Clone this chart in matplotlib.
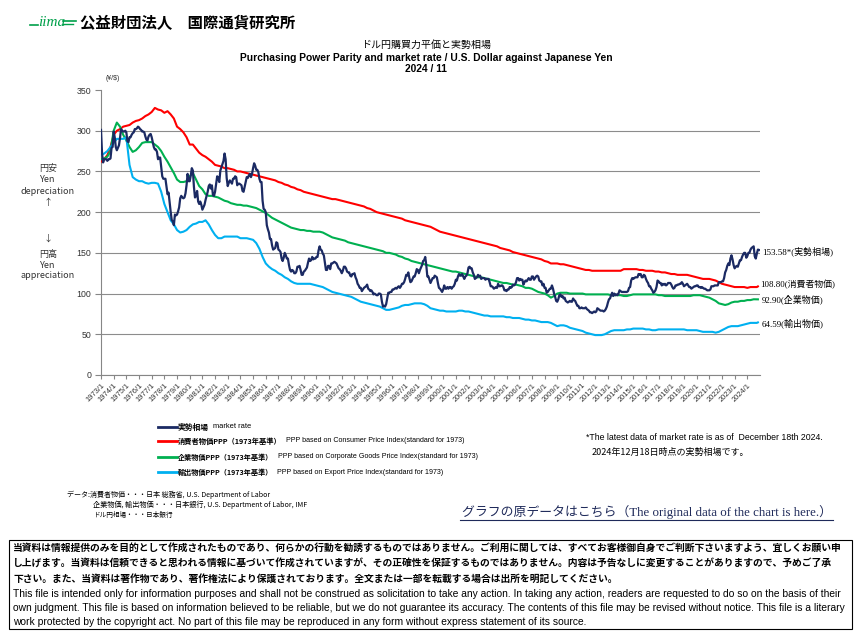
import numpy as np
import matplotlib.pyplot as plt
from matplotlib.lines import Line2D
from matplotlib.patches import Rectangle

# ---- data ----
# market rate, monthly averages 1973/1 .. 2024/12 (last = Dec 18th 2024)
market_rate = [
    301, 272, 261, 265, 265, 265, 263, 265, 265, 266, 279, 280,   # 1973
    299, 292, 280, 276, 279, 282, 291, 302, 300, 299, 299, 300,   # 1974
    298, 287, 286, 292, 292, 295, 297, 298, 302, 302, 303, 305,   # 1975
    304, 302, 301, 299, 299, 298, 293, 289, 288, 293, 295, 296,   # 1976
    292, 286, 280, 277, 277, 274, 265, 267, 267, 255, 244, 241,   # 1977
    241, 241, 231, 222, 224, 212, 200, 190, 189, 184, 197, 196,   # 1978
    197, 201, 206, 217, 220, 218, 217, 218, 223, 233, 247, 238,   # 1979
    238, 245, 254, 251, 231, 218, 220, 226, 213, 210, 213, 209,   # 1980
    203, 206, 209, 215, 220, 225, 232, 234, 229, 233, 221, 220,   # 1981
    225, 235, 244, 242, 237, 251, 255, 259, 263, 272, 265, 242,   # 1982
    232, 236, 239, 237, 235, 241, 241, 244, 243, 233, 235, 235,   # 1983
    234, 233, 226, 225, 231, 237, 243, 242, 245, 247, 243, 247,   # 1984
    254, 260, 257, 252, 252, 249, 241, 237, 237, 214, 204, 203,   # 1985
    200, 184, 179, 175, 167, 167, 159, 154, 155, 156, 163, 162,   # 1986
    154, 153, 151, 143, 140, 144, 150, 147, 143, 143, 135, 129,   # 1987
    127, 129, 128, 125, 125, 127, 133, 133, 134, 129, 123, 123,   # 1988
    127, 128, 130, 132, 138, 143, 140, 141, 145, 142, 143, 143,   # 1989
    145, 145, 153, 158, 154, 153, 149, 147, 138, 129, 129, 134,   # 1990
    134, 130, 137, 137, 138, 139, 138, 137, 134, 131, 130, 128,   # 1991
    125, 128, 133, 133, 131, 127, 126, 126, 122, 121, 124, 124,   # 1992
    125, 120, 117, 112, 110, 107, 107, 103, 105, 107, 108, 109,   # 1993
    111, 106, 105, 103, 104, 102, 99, 100, 99, 98, 98, 100,       # 1994
    100, 99, 90, 84, 85, 84, 87, 94, 101, 101, 102, 102,          # 1995
    105, 105, 106, 107, 106, 108, 109, 107, 109, 112, 112, 114,   # 1996
    118, 123, 122, 126, 119, 114, 115, 118, 121, 121, 125, 130,   # 1997
    129, 125, 129, 132, 135, 140, 141, 145, 135, 121, 121, 117,   # 1998
    113, 116, 119, 119, 122, 121, 120, 113, 107, 106, 104, 102,   # 1999
    105, 110, 106, 106, 108, 106, 108, 108, 106, 108, 109, 112,   # 2000
    117, 116, 121, 124, 122, 122, 124, 121, 118, 121, 122, 125,   # 2001
    132, 133, 131, 131, 126, 123, 118, 119, 120, 123, 121, 122,   # 2002
    118, 119, 119, 119, 117, 118, 118, 118, 114, 109, 109, 108,   # 2003
    106, 107, 108, 107, 112, 109, 109, 110, 110, 108, 104, 104,   # 2004
    103, 105, 105, 108, 107, 108, 111, 110, 111, 114, 119, 119,   # 2005
    116, 118, 117, 117, 111, 114, 116, 115, 117, 119, 117, 117,   # 2006
    121, 121, 117, 119, 121, 122, 121, 116, 115, 115, 110, 112,   # 2007
    107, 107, 101, 102, 104, 106, 106, 110, 106, 100, 96, 91,     # 2008
    90, 93, 98, 99, 96, 97, 94, 95, 91, 90, 89, 90,               # 2009
    91, 90, 90, 94, 92, 91, 88, 85, 85, 82, 82, 83,               # 2010
    82, 82, 82, 83, 81, 80, 79, 77, 77, 76, 77, 78,               # 2011
    77, 78, 82, 81, 80, 79, 79, 79, 78, 79, 81, 84,               # 2012
    89, 93, 94, 98, 101, 97, 100, 98, 99, 98, 100, 104,           # 2013
    103, 102, 102, 102, 102, 102, 102, 103, 107, 108, 116, 119,   # 2014
    118, 119, 120, 120, 120, 124, 123, 124, 120, 120, 123, 122,   # 2015
    118, 115, 113, 109, 109, 106, 104, 101, 102, 104, 108, 116,   # 2016
    115, 113, 113, 110, 112, 111, 112, 110, 111, 113, 113, 113,   # 2017
    111, 108, 106, 107, 110, 110, 111, 111, 112, 112, 114, 112,   # 2018
    109, 110, 111, 112, 110, 108, 108, 106, 107, 108, 109, 109,   # 2019
    110, 110, 108, 108, 107, 108, 107, 106, 106, 105, 104, 104,   # 2020
    104, 105, 109, 109, 109, 110, 110, 110, 110, 114, 114, 114,   # 2021
    115, 115, 119, 126, 129, 134, 137, 135, 143, 147, 142, 135,   # 2022
    131, 133, 134, 133, 137, 141, 141, 145, 148, 150, 150, 144,   # 2023
    146, 150, 150, 154, 156, 157, 158, 146, 143, 149, 154, 153.58,  # 2024
]

# PPP series, quarterly (Jan, Apr, Jul, Oct) 1973 .. 2024, plus 2024/11 latest
ppp_cpi = [
    262, 265, 270, 280,  295, 300, 302, 305,  306, 307, 310, 312,  313, 315, 318, 320,
    323, 328, 326, 325,  322, 324, 320, 315,  305, 302, 298, 292,  283, 283, 278, 273,
    270, 268, 265, 262,  258, 257, 256, 254,  254, 253, 252, 250,  250, 249, 248, 247,
    246, 245, 244, 243,  242, 241, 240, 239,  237, 236, 234, 233,  231, 230, 228, 227,
    225, 224, 223, 222,  221, 220, 219, 218,  217, 216, 216, 215,  214, 213, 212, 211,
    210, 209, 208, 207,  205, 204, 202, 200,  199, 198, 197, 196,  195, 194, 193, 192,
    190, 189, 188, 187,  186, 185, 184, 183,  182, 180, 178, 176,  175, 174, 173, 172,
    171, 170, 169, 168,  167, 166, 165, 164,  163, 162, 161, 160,  159, 158, 156, 155,
    154, 153, 151, 150,  149, 148, 147, 146,  145, 144, 143, 142,  140, 139, 137, 137,
    137, 136, 136, 135,  134, 133, 132, 131,  130, 129, 129, 128,  128, 128, 128, 128,
    128, 128, 128, 128,  128, 130, 130, 130,  130, 130, 129, 129,  128, 128, 128, 127,
    127, 126, 126, 125,  124, 124, 123, 123,  123, 123, 122, 121,  120, 119, 118, 118,
    118, 117, 116, 114,  112, 111, 110, 109,  108, 108, 108, 108,  107, 108, 108, 108,
]
ppp_cgpi = [
    265, 266, 268, 275,  300, 310, 305, 295,  288, 280, 274, 276,  280, 285, 286, 286,
    286, 283, 280, 275,  268, 262, 255, 248,  240, 237, 237, 238,  244, 248, 240, 232,
    228, 222, 220, 220,  219, 218, 216, 214,  213, 211, 210, 209,  209, 208, 208, 207,
    206, 205, 203, 201,  199, 196, 193, 191,  189, 187, 185, 183,  181, 180, 179, 178,
    178, 177, 177, 176,  176, 176, 175, 173,  171, 169, 168, 167,  166, 165, 163, 162,
    161, 160, 159, 158,  157, 156, 155, 154,  153, 152, 150, 150,  149, 148, 146, 145,
    143, 142, 140, 139,  138, 137, 136, 135,  134, 133, 132, 131,  130, 129, 128, 127,
    127, 126, 125, 124,  123, 122, 121, 120,  120, 119, 118, 117,  116, 115, 114, 113,
    113, 112, 111, 111,  110, 109, 107, 107,  106, 104, 102, 101,  100, 98, 95, 97,
    100, 101, 101, 101,  100, 100, 100, 100,  100, 99, 99, 99,  99, 99, 99, 99,
    99, 98, 98, 98,  98, 97, 97, 98,  99, 99, 99, 99,  99, 99, 99, 99,
    98, 98, 97, 97,  97, 97, 97, 97,  97, 97, 97, 98,  98, 98, 97, 96,
    95, 93, 91, 88,  87, 86, 87, 89,  90, 90, 91, 91,  92, 92, 93, 93,
]
ppp_export = [
    270, 272, 275, 280,  285, 290, 290, 290,  292, 258, 243, 240,  238, 238, 236, 235,
    236, 236, 235, 225,  210, 200, 190, 185,  178, 175, 176, 178,  182, 185, 186, 188,
    188, 190, 185, 178,  172, 168, 168, 170,  170, 170, 170, 170,  168, 168, 168, 167,
    166, 162, 155, 145,  137, 133, 130, 128,  125, 123, 120, 118,  115, 113, 112, 112,
    112, 112, 112, 111,  110, 109, 108, 106,  104, 102, 101, 100,  99, 98, 97, 96,
    94, 92, 90, 89,  88, 87, 86, 85,  84, 82, 80, 80,  81, 82, 83, 85,
    86, 86, 87, 88,  88, 88, 87, 85,  82, 81, 80, 79,  79, 78, 78, 78,
    78, 79, 79, 78,  78, 77, 76, 75,  74, 73, 73, 72,  72, 72, 72, 72,
    71, 71, 70, 70,  70, 69, 68, 68,  67, 67, 66, 65,  65, 65, 64, 62,
    60, 61, 61, 60,  58, 57, 56, 55,  54, 52, 51, 50,  49, 49, 49, 50,
    52, 54, 55, 55,  55, 55, 56, 56,  57, 57, 57, 57,  56, 56, 55, 55,
    56, 56, 56, 56,  56, 56, 56, 56,  56, 55, 55, 55,  55, 54, 53, 53,
    53, 53, 52, 53,  55, 57, 59, 60,  60, 60, 61, 62,  63, 64, 64, 64,
]
latest_cpi, latest_cgpi, latest_export = 108.80, 92.90, 64.59
latest_rate = market_rate[-1]

year_ticks = list(range(1973, 2025))
tick_labels = [f"{y}/1" for y in year_ticks]
y_ticks = list(range(0, 351, 50))

# ---- figure ----
W, H = 859, 631
fig = plt.figure(figsize=(W / 100, H / 100), dpi=100)
renderer = fig.canvas.get_renderer()


def fx(px):
    return px / W


def fy(py):
    return 1 - py / H


def fit(t, width_px):
    # scale font so the text spans the width measured on the reference
    w = t.get_window_extent(renderer).width
    t.set_fontsize(t.get_fontsize() * width_px / w)
    return t.get_fontsize()


JP = ['Noto Sans CJK JP', 'DejaVu Sans']
SERIF = ['Liberation Serif', 'Noto Sans CJK JP']
SANS = ['Liberation Sans', 'Noto Sans CJK JP']

NAVY, RED, GREEN, CYAN = '#1B2A63', '#FF0000', '#00B050', '#00B0F0'

ax = fig.add_axes([fx(101), fy(375), fx(760) - fx(101), (375 - 90) / H])

x_rate = 1973 + np.arange(len(market_rate)) / 12
x_q = 1973 + np.arange(len(ppp_cpi)) * 0.25
x_last = 2024 + 10 / 12

ax.plot(np.append(x_q, x_last), ppp_cpi + [latest_cpi], color=RED, lw=1.5, zorder=3)
ax.plot(np.append(x_q, x_last), ppp_cgpi + [latest_cgpi], color=GREEN, lw=1.5, zorder=3)
ax.plot(np.append(x_q, x_last), ppp_export + [latest_export], color=CYAN, lw=1.5, zorder=3)
ax.plot(x_rate, market_rate, color=NAVY, lw=1.6, zorder=4)

ax.set_xlim(1973, 2025)
ax.set_ylim(0, 350)
ax.set_yticks(y_ticks)
ax.set_yticklabels([str(v) for v in y_ticks], fontsize=6.3, color='#333333',
                   family='Liberation Sans')
ax.set_xticks(year_ticks)
ax.set_xticklabels(tick_labels, rotation=45, ha='right', va='top',
                   rotation_mode='anchor', fontsize=5.4, color='#333333',
                   family='Liberation Sans')
ax.tick_params(axis='y', direction='out', length=4, width=0.8, color='#868686', pad=3)
ax.tick_params(axis='x', direction='out', length=3, width=0.8, color='#868686', pad=2)
ax.grid(axis='y', color='#8c8c8c', lw=0.8, zorder=0)
ax.get_ygridlines()[-1].set_visible(False)
for s in ['top', 'right']:
    ax.spines[s].set_visible(False)
for s in ['left', 'bottom']:
    ax.spines[s].set_color('#868686')
    ax.spines[s].set_linewidth(0.8)

# ---- header ----
fig.text(fx(38), fy(23), 'iima', fontsize=11, style='italic', color='#00A04A',
         family='Liberation Serif', va='center', ha='left')
fig.add_artist(Line2D([fx(30), fx(38)], [fy(25), fy(25)], color='#00A04A', lw=1.2))
fig.add_artist(Line2D([fx(63), fx(76)], [fy(21), fy(21)], color='#00A04A', lw=1.2))
fig.add_artist(Line2D([fx(63), fx(73)], [fy(24), fy(24)], color='#00A04A', lw=1.0))
t = fig.text(fx(80), fy(23), '公益財団法人　国際通貨研究所', fontsize=11, weight='bold',
             family=JP, va='center', ha='left')
fit(t, 215)

t = fig.text(fx(426), fy(45), 'ドル円購買力平価と実勢相場', fontsize=7, family=JP,
             ha='center', va='center')
fit(t, 130)
t = fig.text(fx(426), fy(58),
             'Purchasing Power Parity and market rate / U.S. Dollar against Japanese Yen',
             fontsize=6.8, weight='bold', family=SANS, ha='center', va='center')
title_size = fit(t, 374)
fig.text(fx(426), fy(69), '2024 / 11', fontsize=title_size, weight='bold',
         family=SANS, ha='center', va='center')
fig.text(fx(106), fy(78), '(¥/$)', fontsize=5, family=SANS,
         color='#333333', ha='left', va='center')

# ---- left side labels ----
for txt, py in [('円安', 168), ('Yen', 180), ('depreciation', 192), ('↑', 203),
                ('↓', 239), ('円高', 254), ('Yen', 265), ('appreciation', 276)]:
    fig.text(fx(48), fy(py), txt, fontsize=6.5, family=JP, color='#333333',
             ha='center', va='center')

# ---- right end labels ----
for txt, px, py, wd in [(f'{latest_rate:.2f}*(実勢相場)', 762, 251, 71),
                        (f'{latest_cpi:.2f}(消費者物価)', 760, 284, 75),
                        (f'{latest_cgpi:.2f}(企業物価)', 762, 299, 62),
                        (f'{latest_export:.2f}(輸出物価)', 762, 323, 62)]:
    t = fig.text(fx(px), fy(py), txt, fontsize=7, family=SERIF, ha='left', va='center')
    fit(t, wd)

# ---- legend ----
legend_rows = [
    (NAVY, '実勢相場', 31, 'market rate', 213, 38, 427),
    (RED, '消費者物価PPP（1973年基準）', 104,
     'PPP based on Consumer Price Index(standard for 1973)', 286, 177, 441),
    (GREEN, '企業物価PPP（1973年基準）', 95,
     'PPP based on Corporate Goods Price Index(standard for 1973)', 278, 199, 457),
    (CYAN, '輸出物価PPP（1973年基準）', 95,
     'PPP based on Export Price Index(standard for 1973)', 277, 166, 472),
]
for color, jp, jw, en, ex, ew, py in legend_rows:
    fig.add_artist(Line2D([fx(158), fx(177)], [fy(py), fy(py)], color=color, lw=2))
    t = fig.text(fx(178), fy(py), jp, fontsize=5.6, weight='bold', family=JP,
                 ha='left', va='center')
    fit(t, jw)
    t = fig.text(fx(ex), fy(py), en, fontsize=4.9, family=SANS,
                 ha='left', va='center')
    fit(t, ew)

t = fig.text(fx(586), fy(438), '*The latest data of market rate is as of  December 18th 2024.',
             fontsize=5.6, family=SANS, ha='left', va='center')
fit(t, 237)
t = fig.text(fx(592), fy(452), '2024年12月18日時点の実勢相場です。', fontsize=6.3,
             family=JP, ha='left', va='center')
fit(t, 158)

# ---- data sources ----
src = [('データ:消費者物価・・・日本 総務省, U.S. Department of Labor', 67, 495, 203),
       ('企業物価, 輸出物価・・・日本銀行, U.S. Department of Labor, IMF', 93, 505, 214),
       ('ドル円相場・・・日本銀行', 93, 515, 79)]
for txt, px, py, wd in src:
    t = fig.text(fx(px), fy(py), txt, fontsize=4.8, family=JP, ha='left', va='center')
    fit(t, wd)

t = fig.text(fx(462), fy(512), 'グラフの原データはこちら（The original data of the chart is here.）',
             fontsize=8.6, family=SERIF, color='#1F2A5A', ha='left', va='center')
fit(t, 368)
fig.add_artist(Line2D([fx(460), fx(833)], [fy(520), fy(520)], color='#1F2A5A', lw=0.8))

# ---- disclaimer box ----
fig.add_artist(Rectangle((fx(9), fy(629)), fx(852) - fx(9), (629 - 540) / H,
                         fill=False, edgecolor='black', lw=0.8, transform=fig.transFigure))
jp_lines = [
    '当資料は情報提供のみを目的として作成されたものであり、何らかの行動を勧誘するものではありません。ご利用に関しては、すべてお客様御自身でご判断下さいますよう、宜しくお願い申',
    'し上げます。当資料は信頼できると思われる情報に基づいて作成されていますが、その正確性を保証するものではありません。内容は予告なしに変更することがありますので、予めご了承',
    '下さい。また、当資料は著作物であり、著作権法により保護されております。全文または一部を転載する場合は出所を明記してください。',
]
en_lines = [
    'This file is intended only for information purposes and shall not be construed as solicitation to take any action. In taking any action, readers are requested to do so on the basis of their',
    'own judgment. This file is based on information believed to be reliable, but we do not guarantee its accuracy. The contents of this file may be revised without notice. This file is a literary',
    'work protected by the copyright act. No part of this file may be reproduced in any form without express statement of its source.',
]
jp_texts = [fig.text(fx(13), fy(py), txt, fontsize=7.0, weight='bold', family=JP,
                     ha='left', va='center')
            for txt, py in zip(jp_lines, [549, 564, 579])]
jp_size = fit(jp_texts[0], 835)
for t in jp_texts[1:]:
    t.set_fontsize(jp_size)
en_texts = [fig.text(fx(13), fy(py), txt, fontsize=6.1, family=SANS,
                     ha='left', va='center')
            for txt, py in zip(en_lines, [594, 608, 622])]
en_size = fit(en_texts[0], 833)
for t in en_texts[1:]:
    t.set_fontsize(en_size)

fig.savefig('out.png', dpi=100)
